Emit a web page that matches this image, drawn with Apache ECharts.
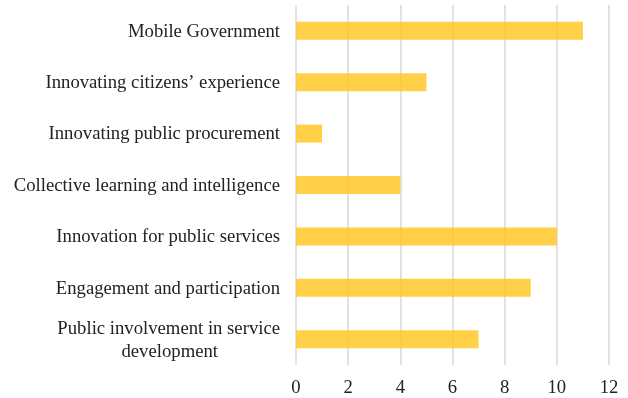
<!DOCTYPE html>
<html>
<head>
<meta charset="utf-8">
<script src="https://cdn.jsdelivr.net/npm/echarts@6/dist/echarts.min.js"></script>
<style>html,body{margin:0;padding:0;background:#fff;}#c{width:628px;height:398px;}</style>
</head>
<body>
<div id="c"></div>
<script>
const categories = [
  "Mobile Government",
  "Innovating citizens\u2019 experience",
  "Innovating public procurement",
  "Collective learning and intelligence",
  "Innovation for public services",
  "Engagement and participation",
  "Public involvement in service\ndevelopment"
];
const values = [11, 5, 1, 4, 10, 9, 7];
const xTicks = [0, 2, 4, 6, 8, 10, 12];

const FS = 18.7;
const chart = echarts.init(document.getElementById('c'));
chart.setOption({
  animation: false,
  grid: { left: 296, right: 19, top: 5, bottom: 31, containLabel: false },
  xAxis: {
    type: 'value', min: xTicks[0], max: xTicks[xTicks.length - 1], interval: 2,
    axisLine: { show: false }, axisTick: { show: false },
    splitLine: { show: true, lineStyle: { color: '#d9d9d9', width: 1.5 } },
    axisLabel: { margin: 14, fontFamily: 'Liberation Serif', fontSize: FS, color: '#222' }
  },
  yAxis: {
    type: 'category', inverse: true, data: categories,
    axisLine: { show: false }, axisTick: { show: false },
    axisLabel: {
      margin: 16, fontFamily: 'Liberation Serif', fontSize: FS, color: '#222', lineHeight: 23,
      padding: [2, 0, 0, 0],
      formatter: function (v) {
        if (v.indexOf('\n') >= 0) {
          const parts = v.split('\n');
          return parts[0] + '\n{d|' + parts[1] + '}';
        }
        return v;
      },
      rich: { d: { fontFamily: 'Liberation Serif', fontSize: FS, color: '#222', padding: [0, 62, 0, 0], lineHeight: 23 } }
    }
  },
  series: [{
    type: 'bar', data: values, barWidth: 18,
    itemStyle: { color: 'rgba(255,200,40,0.85)' }
  }]
});
</script>
</body>
</html>
